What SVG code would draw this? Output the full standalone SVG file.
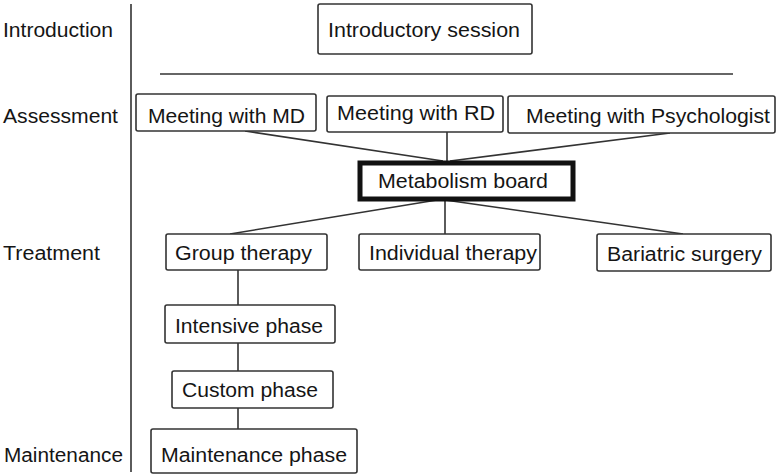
<svg xmlns="http://www.w3.org/2000/svg" width="779" height="476" viewBox="0 0 779 476">
<style>
.box{fill:#fff;stroke:#333;stroke-width:1.6}
.thick{fill:#fff;stroke:#111;stroke-width:5}
.t{font-family:"Liberation Sans",Arial,sans-serif;font-size:20px;fill:#151515}
.ln{stroke:#333;stroke-width:1.6;fill:none}
</style>
<rect width="779" height="476" fill="#fff"/>
<g id="phase-labels">
<text class="t" x="3" y="37" textLength="110" lengthAdjust="spacingAndGlyphs">Introduction</text>
<text class="t" x="3" y="123" textLength="115" lengthAdjust="spacingAndGlyphs">Assessment</text>
<text class="t" x="3" y="260" textLength="97" lengthAdjust="spacingAndGlyphs">Treatment</text>
<text class="t" x="4" y="462" textLength="119" lengthAdjust="spacingAndGlyphs">Maintenance</text>
</g>
<g id="connectors">
<line class="ln" x1="131" y1="4" x2="131" y2="472"/>
<line class="ln" x1="160" y1="74" x2="733" y2="74"/>
<line class="ln" x1="245" y1="131" x2="443" y2="161"/>
<line class="ln" x1="447" y1="132" x2="447" y2="161"/>
<line class="ln" x1="670" y1="133" x2="450" y2="161"/>
<line class="ln" x1="437" y1="200" x2="230" y2="234"/>
<line class="ln" x1="445" y1="200" x2="445" y2="234"/>
<line class="ln" x1="445" y1="200" x2="683" y2="234"/>
<line class="ln" x1="238" y1="270" x2="238" y2="305"/>
<line class="ln" x1="238" y1="343" x2="238" y2="371"/>
<line class="ln" x1="238" y1="408" x2="238" y2="429"/>
</g>
<g id="intro-session">
<rect class="box" x="318" y="4" width="214" height="50" rx="2"/>
<text class="t" x="328" y="37" textLength="192" lengthAdjust="spacingAndGlyphs">Introductory session</text>
</g>
<g id="md">
<rect class="box" x="136" y="94" width="180" height="37" rx="2"/>
<text class="t" x="148" y="123" textLength="157" lengthAdjust="spacingAndGlyphs">Meeting with MD</text>
</g>
<g id="rd">
<rect class="box" x="327" y="96" width="176" height="36" rx="2"/>
<text class="t" x="337" y="120" textLength="158" lengthAdjust="spacingAndGlyphs">Meeting with RD</text>
</g>
<g id="psych">
<rect class="box" x="508" y="96" width="267" height="37" rx="2"/>
<text class="t" x="526" y="123" textLength="244" lengthAdjust="spacingAndGlyphs">Meeting with Psychologist</text>
</g>
<g id="metabolism">
<rect class="thick" x="360" y="163" width="213" height="36"/>
<text class="t" x="378" y="188" textLength="170" lengthAdjust="spacingAndGlyphs">Metabolism board</text>
</g>
<g id="group">
<rect class="box" x="166" y="234" width="161" height="36" rx="2"/>
<text class="t" x="175" y="260" textLength="137" lengthAdjust="spacingAndGlyphs">Group therapy</text>
</g>
<g id="individual">
<rect class="box" x="359" y="234" width="181" height="36" rx="2"/>
<text class="t" x="369" y="260" textLength="168" lengthAdjust="spacingAndGlyphs">Individual therapy</text>
</g>
<g id="bariatric">
<rect class="box" x="597" y="234" width="174" height="37" rx="2"/>
<text class="t" x="607" y="261" textLength="155" lengthAdjust="spacingAndGlyphs">Bariatric surgery</text>
</g>
<g id="intensive">
<rect class="box" x="165" y="305" width="170" height="38" rx="2"/>
<text class="t" x="175" y="333" textLength="148" lengthAdjust="spacingAndGlyphs">Intensive phase</text>
</g>
<g id="custom">
<rect class="box" x="172" y="371" width="161" height="37" rx="2"/>
<text class="t" x="182" y="397" textLength="136" lengthAdjust="spacingAndGlyphs">Custom phase</text>
</g>
<g id="maintenance">
<rect class="box" x="151" y="429" width="206" height="44" rx="2"/>
<text class="t" x="161" y="462" textLength="186" lengthAdjust="spacingAndGlyphs">Maintenance phase</text>
</g>
</svg>
